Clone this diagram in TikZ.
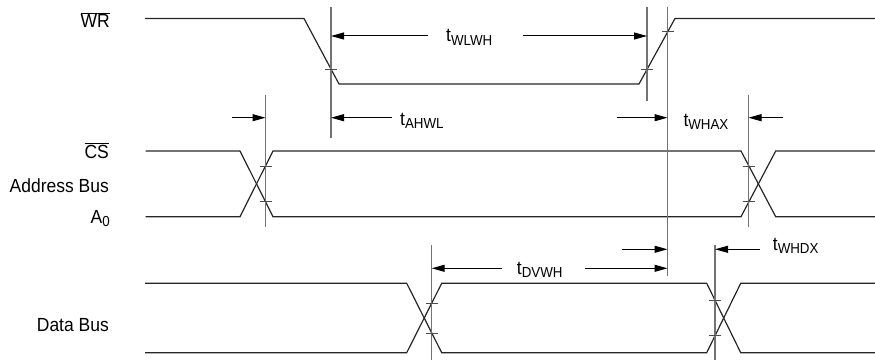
\documentclass[tikz,border=0pt]{standalone}
\usepackage{fontspec}
\setmainfont{Liberation Sans}[FakeStretch=0.92]
\usetikzlibrary{arrows.meta}
\newcommand\tsub[1]{t\raisebox{-3.3pt}{\fontsize{14.5}{15}\selectfont #1}}
\newcommand\ovl[1]{$\overline{\hbox{#1}}$}
\tikzset{
  sig/.style={line width=1.2pt, black!85},
  ref/.style={line width=1.2pt, black!55},
  tick/.style={line width=0.8pt, black!70},
  dim/.style={line width=1pt, black, -{Triangle[length=13pt,width=7pt]}},
  lbl/.style={font=\fontsize{19}{20}\selectfont, inner sep=0pt, anchor=base east},
  tlbl/.style={font=\fontsize{19}{20}\selectfont, inner sep=0pt, anchor=base west},
}
\begin{document}
\begin{tikzpicture}[x=1pt,y=-1pt]
\useasboundingbox (0,0) rectangle (875,361);
% signal labels
\node[lbl] (lWR) at (110,27.3) {\ovl{WR}};
\node[lbl] (lCS) at (109,158) {\ovl{CS}};
\node[lbl] (lAB) at (109,192.7) {Address Bus};
\node[lbl] (lA0) at (110,223) {A\raisebox{-3.3pt}{\fontsize{14.5}{15}\selectfont 0}};
\node[lbl] (lDB) at (109,331) {Data Bus};
% WR waveform
\coordinate (w0) at (145,18.5);
\coordinate (w1) at (304,18.5);
\coordinate (w2) at (339,84);
\coordinate (w3) at (639,84);
\coordinate (w4) at (675,18.5);
\coordinate (w5) at (875,18.5);
\draw[sig] (w0) -- (w1) -- (w2) -- (w3) -- (w4) -- (w5);
% CS / address waveform
\draw[sig] (145.7,151) -- (240,151) -- (273,216.7) -- (741,216.7) -- (775.7,151) -- (875,151);
\draw[sig] (145.7,216.7) -- (240,216.7) -- (273,151) -- (741,151) -- (775.7,216.7) -- (875,216.7);
% data bus waveform
\draw[sig] (145,283.3) -- (406.7,283.3) -- (441.7,352.7) -- (706.7,352.7) -- (740.7,283.3) -- (875,283.3);
\draw[sig] (145,352.7) -- (406.7,352.7) -- (441.7,283.3) -- (706.7,283.3) -- (740.7,352.7) -- (875,352.7);
% reference lines
\coordinate (v1t) at (331,7);   \coordinate (v1b) at (331,137.7);
\coordinate (v2t) at (647,7);   \coordinate (v2b) at (647,101);
\coordinate (v3t) at (667.5,7); \coordinate (v3b) at (667.5,276);
\coordinate (v4t) at (265.5,95); \coordinate (v4b) at (265.5,227);
\coordinate (v5t) at (748.5,95); \coordinate (v5b) at (748.5,227);
\coordinate (v6t) at (431.7,245); \coordinate (v6b) at (431.7,360);
\coordinate (v7t) at (715,245); \coordinate (v7b) at (715,360);
\foreach \v in {v1,v2,v3,v4,v5,v6,v7} \draw[ref] (\v t) -- (\v b);
% ticks
\foreach \x/\y in {331/69, 647/69.4, 667.5/31.2, 265.5/165.9, 265.5/201.8, 748.5/166.1, 748.5/201.6, 431.7/303.1, 431.7/332.9, 715/300.3, 715/335.7}
  \draw[tick] (\x-6,\y) -- (\x+6,\y);
% t_WLWH
\coordinate (a1l) at (428,36); \coordinate (a1r) at (523,36);
\draw[dim] (a1l) -- (v1t |- a1l);
\draw[dim] (a1r) -- (v2t |- a1r);
\node[tlbl] (tWLWH) at (446,41.7) {\tsub{WLWH}};
% t_AHWL
\coordinate (a2) at (391.7,117.7);
\draw[dim] (a2) -- (v1t |- a2);
\node[tlbl] (tAHWL) at (400,125) {\tsub{AHWL}};
\coordinate (a3) at (232,117.7);
\draw[dim] (a3) -- (v4t |- a3);
% t_WHAX
\coordinate (a4l) at (616.7,117.7); \coordinate (a4r) at (782.7,117.7);
\draw[dim] (a4l) -- (v3t |- a4l);
\draw[dim] (a4r) -- (v5t |- a4r);
\node[tlbl] (tWHAX) at (683.3,126) {\tsub{WHAX}};
% t_DVWH
\coordinate (a5l) at (501.7,268.3); \coordinate (a5r) at (585,268.3);
\draw[dim] (a5l) -- (v6t |- a5l);
\draw[dim] (a5r) -- (v3t |- a5r);
\node[tlbl] (tDVWH) at (516.7,274.3) {\tsub{DVWH}};
% t_WHDX
\coordinate (a6l) at (621.7,249.3); \coordinate (a6r) at (760,249.3);
\draw[dim] (a6l) -- (v3t |- a6l);
\draw[dim] (a6r) -- (v7t |- a6r);
\node[tlbl] (tWHDX) at (772.7,250) {\tsub{WHDX}};
\end{tikzpicture}
\end{document}
